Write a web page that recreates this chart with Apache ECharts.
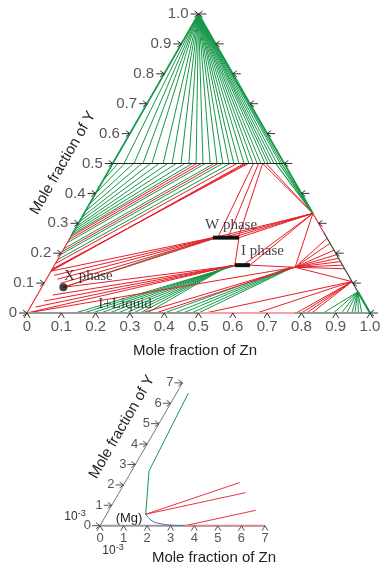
<!DOCTYPE html>
<html>
<head>
<meta charset="utf-8">
<script src="https://cdn.jsdelivr.net/npm/echarts/dist/echarts.min.js"></script>
<style>
  html, body { margin: 0; padding: 0; background: #fff; }
  #chart { width: 381px; height: 567px; }
</style>
</head>
<body>
<div id="chart"></div>
<script>
// ---------- axis ticks ----------
const mainTicks = [0, 0.1, 0.2, 0.3, 0.4, 0.5, 0.6, 0.7, 0.8, 0.9, 1.0];
const mainTickLabels = ['0', '0.1', '0.2', '0.3', '0.4', '0.5', '0.6', '0.7', '0.8', '0.9', '1.0'];
const cornerTicks = [0, 1, 2, 3, 4, 5, 6, 7];
const cornerTickLabels = ['0', '1', '2', '3', '4', '5', '6', '7'];

// ---------- key compositions, [xZn, xY] ----------
const MG = [0, 0];
const YCORNER = [0, 1];
const LEFT_LOW = [0, 0.14];
const LEFT_HIGH = [0, 0.255];
const X_PHASE = [0.063, 0.086];
const W_PHASE = [[0.416, 0.252], [0.492, 0.252]];
const I_PHASE = [[0.526, 0.160], [0.570, 0.160]];
const Q_PT = [0.705, 0.153];
const R1 = [0.667, 0.333];
const R2 = [0.895, 0.105];
const R3 = [0.929, 0.071];

// tie lines from the Y corner to the xY = 0.5 solution line (xZn values)
const apexFanZn = [0, 0.033, 0.062, 0.088, 0.114, 0.147, 0.173, 0.199, 0.222, 0.243,
  0.263, 0.284, 0.304, 0.321, 0.339, 0.353, 0.368, 0.383, 0.397, 0.409,
  0.421, 0.432, 0.444, 0.453, 0.461, 0.470, 0.479, 0.488, 0.493, 0.499];

// tie lines between the Mg-Y side and the xY = 0.5 line
const upperLeftGreen = [
  [[0, 0.44], [0.015, 0.5]], [[0, 0.40], [0.035, 0.5]], [[0, 0.365], [0.06, 0.5]],
  [[0, 0.34], [0.085, 0.5]], [[0, 0.32], [0.11, 0.5]], [[0, 0.305], [0.135, 0.5]],
  [[0, 0.29], [0.16, 0.5]], [[0, 0.28], [0.185, 0.5]], [[0, 0.27], [0.21, 0.5]],
  [[0, 0.262], [0.232, 0.5]], [[0, 0.235], [0.27, 0.5]], [[0, 0.215], [0.295, 0.5]],
  [[0, 0.195], [0.32, 0.5]], [[0, 0.178], [0.342, 0.5]]
];
const upperLeftRed = [
  [[0, 0.255], [0.245, 0.5]], [[0, 0.245], [0.258, 0.5]], [[0, 0.205], [0.307, 0.5]],
  [[0, 0.165], [0.362, 0.5]], [[0, 0.14], [0.383, 0.5]], [[0, 0.143], [0.389, 0.5]],
  [[0, 0.147], [0.395, 0.5]]
];

// W phase: tie lines to the Mg-rich side, to the xY = 0.5 line and to YZn2
const wLeftRed = [
  [[0, 0.14], [0.416, 0.252]], [[0.016, 0.126], [0.419, 0.252]], [[0.032, 0.113], [0.422, 0.252]],
  [[0.048, 0.099], [0.425, 0.252]], [[0.063, 0.086], [0.428, 0.252]]
];
const wLeftGreen = [[[0.063, 0.086], [0.416, 0.252]]];
const wTopRed = [
  [[0.41, 0.5], [0.43, 0.252]], [[0.425, 0.5], [0.46, 0.252]], [[0.437, 0.5], [0.49, 0.252]]
];

// I phase: tie lines to Mg / X phase and to the liquid
const iLeftRed = [
  [[0, 0], [0.526, 0.16]], [[0.015, 0.02], [0.528, 0.16]], [[0.03, 0.04], [0.53, 0.16]],
  [[0.045, 0.06], [0.533, 0.16]], [[0.063, 0.086], [0.536, 0.16]]
];
const iLiquidGreen = [
  [[0.14, 0], [0.526, 0.158]], [[0.165, 0], [0.524, 0.158]], [[0.19, 0], [0.522, 0.158]],
  [[0.215, 0], [0.52, 0.158]], [[0.24, 0], [0.518, 0.158]], [[0.265, 0], [0.516, 0.158]],
  [[0.29, 0], [0.514, 0.158]], [[0.31, 0], [0.512, 0.158]], [[0.33, 0], [0.51, 0.158]],
  [[0.35, 0], [0.508, 0.158]]
];

// liquid corner near Q
const qLiquidGreen = [
  [[0.40, 0], [0.69, 0.152]], [[0.43, 0], [0.692, 0.152]], [[0.455, 0], [0.694, 0.152]],
  [[0.48, 0], [0.696, 0.152]], [[0.50, 0], [0.698, 0.152]]
];
const qRed = [
  [[0, 0], Q_PT], [[0.335, 0], Q_PT], [[0.375, 0], Q_PT]
];
const qEdgeY = [0.25, 0.233, 0.21, 0.195, 0.183, 0.172, 0.16, 0.148];

// YZn2 corner (R1) and Zn-rich side
const r1Red = [
  [R1, [0.42, 0.252]], [R1, [0.445, 0.252]], [R1, [0.47, 0.252]], [R1, [0.492, 0.252]],
  [R1, [0.55, 0.16]], [R1, [0.57, 0.16]], [R1, Q_PT],
  [[0.437, 0.5], R1], [[0.447, 0.5], R1]
];
const r1Green = [
  [[0.475, 0.5], R1], [[0.485, 0.5], [0.66, 0.34]], [[0.492, 0.5], [0.662, 0.338]]
];
const linkRed = [
  [W_PHASE[1], I_PHASE[0]], [I_PHASE[1], Q_PT], [Q_PT, R2]
];
const r2BaseZn = [0.52, 0.67, 0.785, 0.80, 0.815, 0.83];
const r3BaseZn = [0.864, 0.893, 0.917, 0.932, 0.947, 0.956, 0.966, 0.976];

// ---------- Mg-rich corner (units of 1e-3) ----------
const cornerGreen = [[1.66, 0.56], [0.74, 2.68], [0.50, 6.49]];
const cornerBlue = [[1.66, 0.56], [1.9, 0.36], [2.16, 0.2], [2.5, 0.1], [2.95, 0.03], [3.6, 0]];
const cornerRed = [
  [[1.66, 0.56], [4.86, 2.11]], [[1.66, 0.56], [5.37, 1.62]], [[3.6, 0], [6.23, 0.755]]
];
const cornerRedBase = [[3.6, 0], [7, 0]];

// ---------- drawing helpers ----------
const GREEN = '#17984a', RED = '#e81e28', DARK = '#333', GREYLINE = '#9a9a9a', PINK = '#f2a5a5';
const SANS = '"Liberation Sans", Arial, Helvetica, sans-serif';
const SERIF = '"Liberation Serif", "Times New Roman", serif';

// ternary [xZn, xY] -> cartesian plane of the equilateral triangle
const cart = p => [p[0] + p[1] / 2, p[1]];
const ties = list => list.map(s => ({ coords: s.map(cart) }));

function lineSet(grid, data, color, width, z) {
  return {
    type: 'lines', coordinateSystem: 'cartesian2d', xAxisIndex: grid, yAxisIndex: grid,
    polyline: true, data: data, silent: true, z: z || 2, animation: false,
    effect: { show: false },
    lineStyle: { color: color, width: width, opacity: 1 }
  };
}

// pixel size of one data unit on each grid
const SCALE = [{ sx: 343, sy: 299 }, { sx: 23.57, sy: 20.41 }];

function baseTicks(vals, s) {
  return vals.map(t => ({ coords: [[t - 3 / s.sx, -5 / s.sy], [t, 0], [t + 3 / s.sx, -5 / s.sy]] }));
}
function leftTicks(vals, s) {
  const out = [];
  vals.forEach(t => {
    const e = cart([0, t]);
    out.push({ coords: [[e[0] - 8 / s.sx, t], e] });
    out.push({ coords: [[e[0] - 4 / s.sx, t + 3 / s.sy], e, [e[0] - 4 / s.sx, t - 3 / s.sy]] });
  });
  return out;
}
function rightTicks(vals, s) {
  const out = [];
  vals.forEach(t => {
    const e = cart([1 - t, t]);
    out.push({ coords: [e, [e[0] + 8 / s.sx, t]] });
    out.push({ coords: [[e[0] + 4 / s.sx, t + 3 / s.sy], e, [e[0] + 4 / s.sx, t - 3 / s.sy]] });
  });
  return out;
}
function labelSet(grid, points, texts, position, distance, font) {
  return {
    type: 'scatter', xAxisIndex: grid, yAxisIndex: grid, symbolSize: 0, silent: true,
    animation: false, z: 5,
    data: points.map((p, i) => ({ value: cart(p), name: texts[i] })),
    label: {
      show: true, position: position, distance: distance, formatter: '{b}',
      fontFamily: font.family, fontSize: font.size, color: font.color || '#2a2a2a'
    }
  };
}

const series = [];

// ----- main section -----
series.push(lineSet(0, ties(apexFanZn.map(z => [YCORNER, [z, 0.5]])), GREEN, 1));
series.push(lineSet(0, ties(upperLeftGreen), GREEN, 1));
series.push(lineSet(0, ties(iLiquidGreen), GREEN, 1));
series.push(lineSet(0, ties(qLiquidGreen), GREEN, 1));
series.push(lineSet(0, ties(r1Green), GREEN, 1.2));
series.push(lineSet(0, ties(r3BaseZn.map(z => [R3, [z, 0]])), GREEN, 1));
series.push(lineSet(0, ties(wLeftGreen), GREEN, 1));

series.push(lineSet(0, ties(upperLeftRed), RED, 1, 3));
series.push(lineSet(0, ties(wLeftRed), RED, 1, 3));
series.push(lineSet(0, ties(wTopRed), RED, 1, 3));
series.push(lineSet(0, ties(iLeftRed), RED, 1, 3));
series.push(lineSet(0, ties(qRed), RED, 1, 3));
series.push(lineSet(0, ties(qEdgeY.map(y => [Q_PT, [1 - y, y]])), RED, 1, 3));
series.push(lineSet(0, ties(r1Red), RED, 1, 3));
series.push(lineSet(0, ties(linkRed), RED, 1, 3));
series.push(lineSet(0, ties(r2BaseZn.map(z => [R2, [z, 0]])), RED, 1, 3));

// triangle edges and the xY = 0.5 line
series.push(lineSet(0, ties([[[0, 0], [1, 0]]]), GREYLINE, 2.2, 4));
series.push(lineSet(0, ties([[[0.50, 0], [0.78, 0]]]), PINK, 2.2, 4));
series.push(lineSet(0, ties([[MG, LEFT_HIGH]]), RED, 1.1, 4));
series.push(lineSet(0, ties([[LEFT_HIGH, YCORNER]]), GREEN, 1.6, 4));
series.push(lineSet(0, ties([[YCORNER, R1]]), GREEN, 1.8, 4));
series.push(lineSet(0, ties([[R1, [0.73, 0.27]]]), RED, 1.1, 4));
series.push(lineSet(0, ties([[[0.73, 0.27], R3]]), DARK, 1.1, 4));
series.push(lineSet(0, ties([[R3, [1, 0]]]), GREEN, 2.2, 4));
series.push(lineSet(0, ties([[[0, 0.5], [0.5, 0.5]]]), '#222', 1.2, 4));

// single-phase ranges
series.push(lineSet(0, ties([W_PHASE, I_PHASE]), '#111', 4, 6));
series.push({
  type: 'scatter', xAxisIndex: 0, yAxisIndex: 0, silent: true, animation: false, z: 6,
  symbol: 'circle', symbolSize: 8, itemStyle: { color: '#111' }, data: [cart(X_PHASE)]
});

// ticks and tick labels
series.push(lineSet(0, baseTicks(mainTicks, SCALE[0]), DARK, 1, 5));
series.push(lineSet(0, leftTicks(mainTicks, SCALE[0]), DARK, 1, 5));
series.push(lineSet(0, rightTicks(mainTicks, SCALE[0]), DARK, 1, 5));
series.push(labelSet(0, mainTicks.map(t => [t, 0]), mainTickLabels, 'bottom', 6, { family: SANS, size: 15 }));
series.push(labelSet(0, mainTicks.map(t => [0, t]), mainTickLabels, 'left', 10, { family: SANS, size: 15 }));

// phase annotations
const phaseNames = ['W phase', 'I phase', 'X phase', 'I+Liquid'];
const phaseNamePos = [[0.372, 0.294], [0.521, 0.206], [0.046, 0.124], [0.193, 0.030]];
series.push(labelSet(0, phaseNamePos, phaseNames, 'right', 0, { family: SERIF, size: 15, color: '#111' }));

// ----- Mg-rich corner -----
series.push(lineSet(1, [{ coords: cornerGreen.map(cart) }], GREEN, 1));
series.push({
  type: 'line', xAxisIndex: 1, yAxisIndex: 1, smooth: 0.4, symbol: 'none', silent: true,
  animation: false, z: 3, data: cornerBlue.map(cart), lineStyle: { color: '#5467c9', width: 1 }
});
series.push(lineSet(1, ties([[[0, 0], [7, 0]]]), GREYLINE, 2, 2));
series.push(lineSet(1, ties([[[0, 0], [0, 7]]]), '#777', 1, 2));
series.push(lineSet(1, ties(cornerRed), RED, 0.9, 3));
series.push(lineSet(1, ties([cornerRedBase]), '#f08080', 1.2, 3));
series.push(lineSet(1, baseTicks(cornerTicks, SCALE[1]), '#555', 1, 5));
series.push(lineSet(1, leftTicks(cornerTicks, SCALE[1]), '#555', 1, 5));
series.push(labelSet(1, cornerTicks.map(t => [t, 0]), cornerTickLabels, 'bottom', 6, { family: SANS, size: 13 }));
series.push(labelSet(1, cornerTicks.map(t => [0, t]), cornerTickLabels, 'left', 9, { family: SANS, size: 13 }));

const hidden = { show: false };
const option = {
  animation: false,
  backgroundColor: '#fff',
  grid: [
    { left: 2.99, top: 8.02, width: 377.3, height: 319.93 },
    { left: 76.43, top: 376.707, width: 200.345, height: 159.198 }
  ],
  xAxis: [
    { type: 'value', gridIndex: 0, min: -0.07, max: 1.03, ...hidden },
    { type: 'value', gridIndex: 1, min: -1, max: 7.5, ...hidden }
  ],
  yAxis: [
    { type: 'value', gridIndex: 0, min: -0.05, max: 1.02, ...hidden },
    { type: 'value', gridIndex: 1, min: -0.5, max: 7.3, ...hidden }
  ],
  graphic: [
    { type: 'text', x: 195, y: 351, style: { text: 'Mole fraction of Zn', font: '15px ' + SANS, fill: '#222', align: 'center', verticalAlign: 'middle' } },
    { type: 'text', x: 63, y: 163, rotation: Math.PI / 3, style: { text: 'Mole fraction of Y', font: '15px ' + SANS, fill: '#222', align: 'center', verticalAlign: 'middle' } },
    { type: 'text', x: 214, y: 558, style: { text: 'Mole fraction of Zn', font: '15px ' + SANS, fill: '#222', align: 'center', verticalAlign: 'middle' } },
    { type: 'text', x: 122, y: 427, rotation: Math.PI / 3, style: { text: 'Mole fraction of Y', font: '15px ' + SANS, fill: '#222', align: 'center', verticalAlign: 'middle' } },
    { type: 'text', x: 129, y: 518, style: { text: '(Mg)', font: '13px ' + SANS, fill: '#222', align: 'center', verticalAlign: 'middle' } },
    { type: 'text', x: 75, y: 517, style: { text: '{a|10}{b|-3}', align: 'center', verticalAlign: 'middle', rich: { a: { fontSize: 12, fontFamily: SANS, fill: '#333' }, b: { fontSize: 9, fontFamily: SANS, fill: '#333', padding: [0, 0, 6, 0] } } } },
    { type: 'text', x: 113, y: 551, style: { text: '{a|10}{b|-3}', align: 'center', verticalAlign: 'middle', rich: { a: { fontSize: 12, fontFamily: SANS, fill: '#333' }, b: { fontSize: 9, fontFamily: SANS, fill: '#333', padding: [0, 0, 6, 0] } } } }
  ],
  series: series
};

const chart = echarts.init(document.getElementById('chart'), null, { renderer: 'canvas' });
chart.setOption(option);
</script>
</body>
</html>
